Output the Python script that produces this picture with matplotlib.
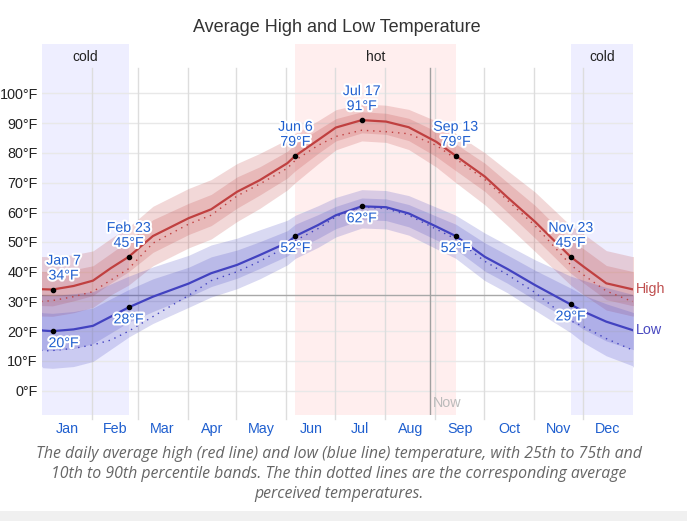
import datetime
import numpy as np
import matplotlib
matplotlib.use("Agg")
import matplotlib.pyplot as plt
import matplotlib.patheffects as pe
from matplotlib.patches import Rectangle

# --- data ---
dates = ["01-01", "01-07", "01-20", "02-01", "02-12", "02-23", "03-10", "04-01",
         "04-15", "05-01", "05-15", "06-01", "06-06", "06-20", "07-01", "07-17",
         "08-01", "08-15", "09-01", "09-13", "10-01", "10-15", "11-01", "11-23",
         "12-01", "12-15", "12-31"]

high = [34.1, 34.0, 35.2, 37.0, 41.2, 45.0, 52.0, 58.0, 61.0, 66.9, 70.8, 76.5, 79.0, 84.3,
        88.5, 91.0, 90.5, 88.6, 83.7, 79.0, 72.0, 65.0, 56.8, 45.0, 41.7, 36.1, 34.1]
low = [20.2, 20.0, 20.6, 21.8, 24.9, 28.0, 31.6, 36.0, 39.5, 42.3, 45.6, 49.8, 52.0, 55.7,
       59.0, 62.0, 61.7, 59.6, 55.2, 52.0, 45.0, 40.9, 35.5, 29.0, 26.6, 23.2, 20.4]
high_feel = [30.0, 30.3, 31.6, 33.3, 37.2, 41.0, 49.6, 56.0, 59.0, 65.5, 69.5, 74.8, 77.5, 82.5,
             85.5, 87.6, 87.1, 86.4, 82.5, 78.0, 71.0, 64.0, 55.5, 42.3, 38.9, 33.5, 30.0]
low_feel = [13.3, 13.5, 14.2, 15.4, 17.0, 20.0, 24.9, 32.0, 37.0, 40.0, 43.5, 48.5, 50.5, 54.5,
            58.5, 61.8, 61.2, 59.0, 54.3, 51.0, 43.5, 39.0, 33.0, 23.5, 21.5, 17.5, 13.7]

# percentile band distances from the average line (deg F)
hi_up90 = [11, 11, 10.5, 10, 10, 10, 10, 10, 10, 9.5, 9, 8, 7.5, 6.5, 6, 5.5, 5.5, 6, 7, 7.5, 8, 9, 10, 10.5, 11, 11, 11]
hi_up75 = [6, 6, 5.5, 5, 5, 5.5, 5.5, 5, 5, 5, 4.5, 4, 4, 3.5, 3, 2.8, 2.8, 3, 3.5, 4, 4.5, 5, 5.5, 5.5, 6, 6, 6]
hi_dn25 = [5.5, 5.5, 5, 5, 5, 5, 5.5, 5.5, 5.5, 5.5, 5, 5, 5, 4.5, 4.5, 4.3, 4.3, 4.5, 5, 5, 5, 5, 5.5, 5.5, 5.5, 5.5, 5.5]
hi_dn10 = [9, 9, 9, 9, 9, 9.5, 10, 10, 10, 10, 9.5, 9, 9, 8, 7.5, 7, 7, 7.5, 8.5, 9, 9.5, 9.5, 10, 9.5, 9.5, 9, 9]
lo_up90 = [12, 12, 12, 11.5, 11, 10.5, 10, 9.5, 9.5, 9, 8.5, 7.5, 7, 6.5, 6, 5.6, 5.6, 6, 6.5, 7, 8, 8, 8.5, 9.5, 10.5, 11.5, 12]
lo_up75 = [6, 6, 6, 6, 6, 6, 6, 5.5, 5.5, 5, 4.5, 4, 4, 3.5, 3, 2.8, 2.8, 3, 3.5, 4, 4.7, 4.7, 5, 5.5, 5.5, 6, 6]
lo_dn25 = [6.5, 6.5, 6.5, 6, 5.5, 5, 5, 4.5, 4.5, 4.5, 4.5, 4.5, 4.5, 4.5, 4.5, 4.5, 4.5, 4.5, 4.5, 4.5, 4.8, 4.8, 5, 5.5, 6, 6.5, 6.5]
lo_dn10 = [12.5, 12.5, 12.5, 12, 11, 10, 9, 8, 8, 8, 8, 7.5, 7.5, 7.5, 7.3, 7.3, 7.3, 7.3, 7.5, 7.5, 8, 8, 8.5, 9.5, 10.5, 11.5, 12]

marked_dates = ["01-07", "02-23", "06-06", "07-17", "09-13", "11-23"]
marked_names = ["Jan 7", "Feb 23", "Jun 6", "Jul 17", "Sep 13", "Nov 23"]
marked_high = [34, 45, 79, 91, 79, 45]
marked_low = [20, 28, 52, 62, 52, 29]

season_names = ["cold", "hot"]
season_start = ["11-23", "06-06"]
season_end = ["02-23", "09-13"]
now_date = "08-28"

months = ["Jan", "Feb", "Mar", "Apr", "May", "Jun", "Jul", "Aug", "Sep", "Oct", "Nov", "Dec"]
yticks = list(range(0, 101, 10))

caption = ("The daily average high (red line) and low (blue line) temperature, with 25th to 75th and\n"
           "10th to 90th percentile bands. The thin dotted lines are the corresponding average\n"
           "perceived temperatures.")

YEAR = 365
RED = "#c04040"
BLUE = "#4242c0"
TXT_BLUE = "#1f5fcf"


def doy(md):
    m, d = md.split("-")
    return (datetime.date(2023, int(m), int(d)) - datetime.date(2023, 1, 1)).days + 0.5


def wrap(xs, ys):
    # the year is cyclic: continue the series past both edges
    xs = [xs[-1] - YEAR] + list(xs) + [xs[0] + YEAR]
    ys = [ys[-1]] + list(ys) + [ys[0]]
    return np.array(xs), np.array(ys)


x = [doy(d) for d in dates]
xw, hw = wrap(x, high)
_, lw_ = wrap(x, low)
_, hfw = wrap(x, high_feel)
_, lfw = wrap(x, low_feel)
arr = {k: wrap(x, v)[1] for k, v in dict(hu9=hi_up90, hu7=hi_up75, hd2=hi_dn25, hd1=hi_dn10,
                                         lu9=lo_up90, lu7=lo_up75, ld2=lo_dn25, ld1=lo_dn10).items()}

plt.rcParams["font.family"] = ["Liberation Sans", "DejaVu Sans"]

fig = plt.figure(figsize=(6.87, 5.21), dpi=100)
ax = fig.add_axes([42 / 687, 106 / 521, 591 / 687, 371 / 521])
ax.set_xlim(0, YEAR)
ax.set_ylim(-8.2, 116.6)
for s in ax.spines.values():
    s.set_visible(False)

# seasons
for name, a, b in zip(season_names, season_start, season_end):
    xa, xb = doy(a), doy(b)
    col = "#eeeeff" if name == "cold" else "#ffeeee"
    if xa > xb:
        ax.axvspan(xa, YEAR, color=col, lw=0, zorder=0)
        ax.axvspan(0, xb, color=col, lw=0, zorder=0)
        ax.text((xb) / 2, 112.2, name, ha="center", va="center", fontsize=10, color="#222")
        ax.text((xa + YEAR) / 2, 112.2, name, ha="center", va="center", fontsize=10, color="#222")
    else:
        ax.axvspan(xa, xb, color=col, lw=0, zorder=0)
        ax.text((xa + xb) / 2, 112.2, name, ha="center", va="center", fontsize=10, color="#222")

# grid
month_start = [doy(f"{m:02d}-01") - 0.5 for m in range(1, 13)]
for t in yticks:
    ax.axhline(t, color="#e8e8e8", lw=1, zorder=1)
for ms in month_start[1:]:
    ax.plot([ms, ms], [108.5, -9.5], color="#dddddd", lw=1, zorder=1, clip_on=False)
ax.axhline(32, color="#a8a8a8", lw=1, zorder=2)
xn = doy(now_date)
ax.plot([xn, xn], [108.5, -8.2], color="#a0a0a0", lw=1, zorder=2)
ax.text(xn + 1.8, -4.0, "Now", ha="left", va="center", fontsize=10.3, color="#bbbbbb")

# bands
for c, lines in ((RED, ("hu9", "hd1", "hu7", "hd2", hw)), (BLUE, ("lu9", "ld1", "lu7", "ld2", lw_))):
    u9, d1, u7, d2, mid = lines
    ax.fill_between(xw, mid - arr[d1], mid + arr[u9], color=c, alpha=0.2, lw=0, zorder=3)
    ax.fill_between(xw, mid - arr[d2], mid + arr[u7], color=c, alpha=0.2, lw=0, zorder=3)

ax.plot(xw, hfw, color=RED, lw=1, ls=(0, (1, 3.5)), zorder=4)
ax.plot(xw, lfw, color=BLUE, lw=1, ls=(0, (1, 3.5)), zorder=4)
ax.plot(xw, hw, color=RED, lw=1.6, zorder=5)
ax.plot(xw, lw_, color=BLUE, lw=1.6, zorder=5)

# marked days
halo = [pe.withStroke(linewidth=3, foreground="white")]
mx = [doy(d) for d in marked_dates]
ax.scatter(mx, marked_high, s=9, color="black", zorder=6)
ax.scatter(mx, marked_low, s=9, color="black", zorder=6)
for i, (px, name, hv, lv) in enumerate(zip(mx, marked_names, marked_high, marked_low)):
    dx = 11 if i == 0 else 0
    kw = dict(textcoords="offset pixels", ha="center", va="center", fontsize=10.2,
              color=TXT_BLUE, path_effects=halo, zorder=7)
    ax.annotate(name, (px, hv), xytext=(dx, 29), **kw)
    ax.annotate(f"{hv}°F", (px, hv), xytext=(dx, 14), **kw)
    ax.annotate(f"{lv}°F", (px, lv), xytext=(dx, -12), **kw)

ax.annotate("High", (YEAR, high[-1]), xytext=(3, 0), textcoords="offset pixels",
            ha="left", va="center", fontsize=10.3, color="#c05050", annotation_clip=False)
ax.annotate("Low", (YEAR, low[-1]), xytext=(3, 0), textcoords="offset pixels",
            ha="left", va="center", fontsize=10.3, color="#4848c0", annotation_clip=False)

# axes labels
month_mid = [(a + b) / 2 for a, b in zip(month_start, month_start[1:] + [YEAR])]
ax.set_xticks(month_mid)
ax.set_xticklabels(months, color=TXT_BLUE, fontsize=10.3)
ax.set_yticks(yticks)
ax.set_yticklabels([f"{t}°F" for t in yticks], color="#222", fontsize=10.4)
ax.tick_params(length=0)
ax.tick_params(axis="x", pad=5)
ax.tick_params(axis="y", pad=3)

fig.text(337 / 687, 1 - 28 / 521, "Average High and Low Temperature", ha="center", va="center",
         fontsize=13, color="#333")
fig.text(339 / 687, 1 - 474 / 521, caption, ha="center", va="center", fontsize=11.4,
         family=["Open Sans", "DejaVu Sans"], style="italic", color="#666", linespacing=1.35)
fig.patches.append(Rectangle((0, 0), 1, 10 / 521, transform=fig.transFigure,
                             color="#f0f0f0", lw=0))

fig.savefig("out.png", dpi=100)
